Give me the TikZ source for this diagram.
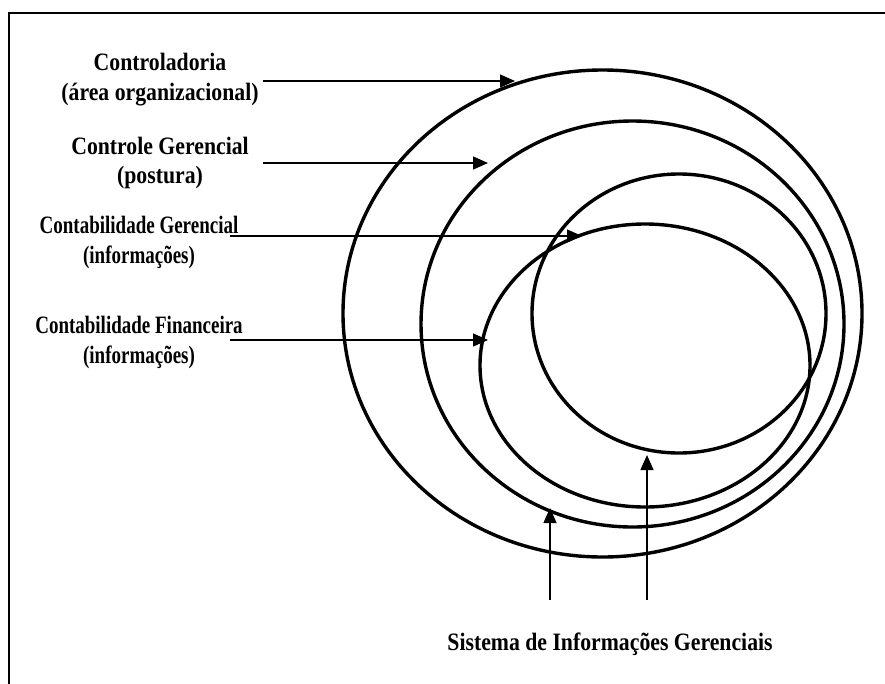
\documentclass[tikz,border=0pt]{standalone}
\usepackage{fontspec}
\setmainfont{Liberation Serif}[FakeStretch=0.87]
\newfontfamily\narrowfont{Liberation Serif}[FakeStretch=0.76]
\usetikzlibrary{arrows.meta,shapes.geometric}
\begin{document}
\begin{tikzpicture}[x=1pt,y=-1pt,
  lbl/.style={font=\fontsize{25}{29}\selectfont\bfseries, anchor=base, inner sep=0pt},
  nlbl/.style={font=\fontsize{25}{29}\selectfont\narrowfont\bfseries, anchor=base, inner sep=0pt},
  ring/.style={draw, ellipse, line width=3.4pt, inner sep=0pt, outer sep=0pt},
  pointer/.style={line width=1.3pt, -{Triangle[length=15pt,width=13pt]}},
  frameline/.style={line width=2pt}]
\useasboundingbox (0,0) rectangle (885,683);
% frame
\draw[frameline] (886,13) -- (9,13) -- (9,684);
% ellipses
\node[ring, minimum width=519pt, minimum height=487pt] (e1) at (602.5,313.5) {};
\node[ring, minimum width=423pt, minimum height=406pt] (e2) at (632.5,324) {};
\node[ring, minimum width=294pt, minimum height=279pt] (e3) at (679,313.5) {};
\node[ring, minimum width=330pt, minimum height=283pt] (e4) at (645,365.5) {};
% labels
\node[lbl] (l1a) at (160,70) {Controladoria};
\node[lbl] (l1b) at (160,100) {(área organizacional)};
\node[lbl] (l2a) at (160,154) {Controle Gerencial};
\node[lbl] (l2b) at (160,183) {(postura)};
\node[nlbl] (l3a) at (139,233) {Contabilidade Gerencial};
\node[nlbl] (l3b) at (139,263) {(informações)};
\node[nlbl] (l4a) at (139,333) {Contabilidade Financeira};
\node[nlbl] (l4b) at (139,363) {(informações)};
\node[lbl] (sig) at (610,650) {Sistema de Informações Gerenciais};
% arrow ends
\coordinate (s1) at (263,81);  \coordinate (t1) at (515,81);
\coordinate (s2) at (263,163); \coordinate (t2) at (488,163);
\coordinate (s3) at (230,236); \coordinate (t3) at (582,236);
\coordinate (s4) at (230,340); \coordinate (t4) at (488,340);
\coordinate (b1) at (550,600); \coordinate (u1) at (550,508);
\coordinate (b2) at (647,600); \coordinate (u2) at (647,455);
\draw[pointer] (s1) -- (t1);
\draw[pointer] (s2) -- (t2);
\draw[pointer] (s3) -- (t3);
\draw[pointer] (s4) -- (t4);
\draw[pointer] (b1) -- (u1);
\draw[pointer] (b2) -- (u2);
\end{tikzpicture}
\end{document}
